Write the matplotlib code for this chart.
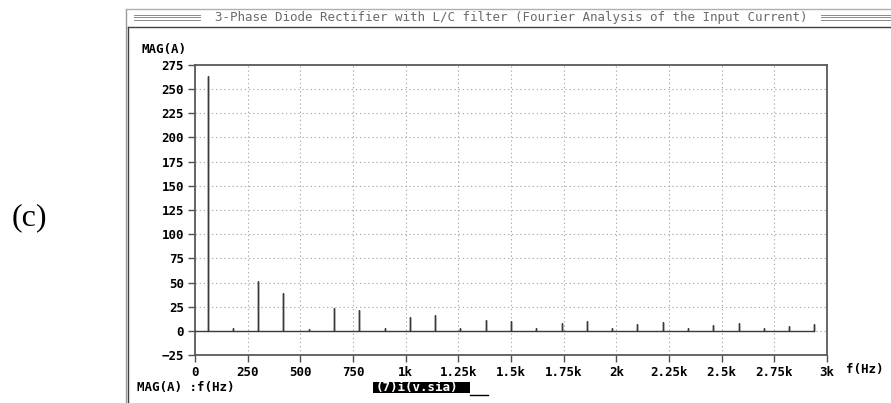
import numpy as np
import matplotlib
matplotlib.use('Agg')
import matplotlib.pyplot as plt
from matplotlib.lines import Line2D
from matplotlib.patches import Rectangle

# harmonic spectrum of the input current (odd harmonics of 60 Hz)
freq = np.array([60, 180, 300, 420, 540, 660, 780, 900, 1020, 1140, 1260, 1380,
                 1500, 1620, 1740, 1860, 1980, 2100, 2220, 2340, 2460, 2580,
                 2700, 2820, 2940])
mag = np.array([263.5, 3, 52, 39, 2, 23.5, 21.5, 3, 14, 16, 3, 11,
                10, 3, 8.5, 10.5, 3, 7, 9.5, 3, 6, 8.5,
                3, 5, 7.5])
xticks = np.arange(0, 3001, 250)
xlabels = ['0', '250', '500', '750', '1k', '1.25k', '1.5k', '1.75k',
           '2k', '2.25k', '2.5k', '2.75k', '3k']
yticks = np.arange(-25, 276, 25)
title = '3-Phase Diode Rectifier with L/C filter (Fourier Analysis of the Input Current)'
trace_name = '(7)i(v.sia)'

W, H = 891, 403
mono = 'DejaVu Sans Mono'

fig = plt.figure(figsize=(W/100, H/100), dpi=100)
fig.patch.set_facecolor('white')

def px(x, y):
    return x/W, 1 - y/H

# axes box in pixels: left 195, right 827, top 65, bottom 355
ax = fig.add_axes([195/W, 1-355/H, (827-195)/W, (355-65)/H])

# trace: baseline with a spike at each harmonic
tx = np.concatenate([[0], np.repeat(freq, 3)])
ty = np.concatenate([[0], np.column_stack([np.zeros_like(mag), mag, np.zeros_like(mag)]).ravel()])
ax.plot(tx, ty, color='#3a3a3a', lw=1.0, solid_joinstyle='miter', zorder=3)

ax.set_xlim(0, 3000)
ax.set_ylim(-25, 275)
ax.set_xticks(xticks)
ax.set_xticklabels(xlabels)
ax.set_yticks(yticks)
ax.grid(True, color='#ababab', lw=0.8, ls=(0, (1.2, 2.5)))
ax.tick_params(axis='both', direction='out', length=5, width=1, color='#505050',
               pad=3, labelsize=9, top=False, right=False)
for lab in ax.get_xticklabels() + ax.get_yticklabels():
    lab.set_family(mono)
    lab.set_weight('bold')
for s in ax.spines.values():
    s.set_color('#5a5a5a')
    s.set_linewidth(1.3)

# labels around the plot
fig.text(*px(142, 50), 'MAG(A)', family=mono, weight='bold', fontsize=9,
         ha='left', va='center')
fig.text(*px(846, 370), 'f(Hz)', family=mono, weight='bold', fontsize=9,
         ha='left', va='center')
fig.text(*px(137, 388), 'MAG(A) :f(Hz)', family=mono, weight='bold', fontsize=9,
         ha='left', va='center')

# trace name box
x0, y0 = px(373, 393)
x1, y1 = px(470, 382)
fig.add_artist(Rectangle((x0, y0), x1-x0, y1-y0, transform=fig.transFigure,
                         facecolor='black', edgecolor='none'))
fig.text(*px(376, 387.5), trace_name, family=mono, weight='bold', fontsize=9,
         color='white', ha='left', va='center')
fig.add_artist(Line2D([px(470, 0)[0], px(488, 0)[0]], [px(0, 394.5)[1]]*2,
                      transform=fig.transFigure, color='black', lw=1))

# window frame and title bar
fig.add_artist(Line2D([px(125.5, 0)[0]]*2, [px(0, 9)[1], 0], transform=fig.transFigure,
                      color='#9a9a9a', lw=1))
fig.add_artist(Line2D([px(128, 0)[0]]*2, [px(0, 27)[1], 0], transform=fig.transFigure,
                      color='#404040', lw=1))
fig.add_artist(Line2D([px(125.5, 0)[0], 1], [px(0, 9)[1]]*2, transform=fig.transFigure,
                      color='#b0b0b0', lw=1))
fig.add_artist(Line2D([px(128, 0)[0], 1], [px(0, 27)[1]]*2, transform=fig.transFigure,
                      color='#404040', lw=1))
for yy in (14.5, 17, 19.5):
    for xa, xb in ((134, 200), (821, 891)):
        fig.add_artist(Line2D([px(xa, 0)[0], px(xb, 0)[0]], [px(0, yy)[1]]*2,
                              transform=fig.transFigure, color='#8a8a8a', lw=0.7))
fig.text(*px(511.5, 17), title, family=mono, fontsize=9, color='#6a6a6a',
         ha='center', va='center')

# panel label
fig.text(*px(29, 218), '(c)', family='Liberation Serif', fontsize=23,
         ha='center', va='center')

fig.savefig('out.png', dpi=100)
